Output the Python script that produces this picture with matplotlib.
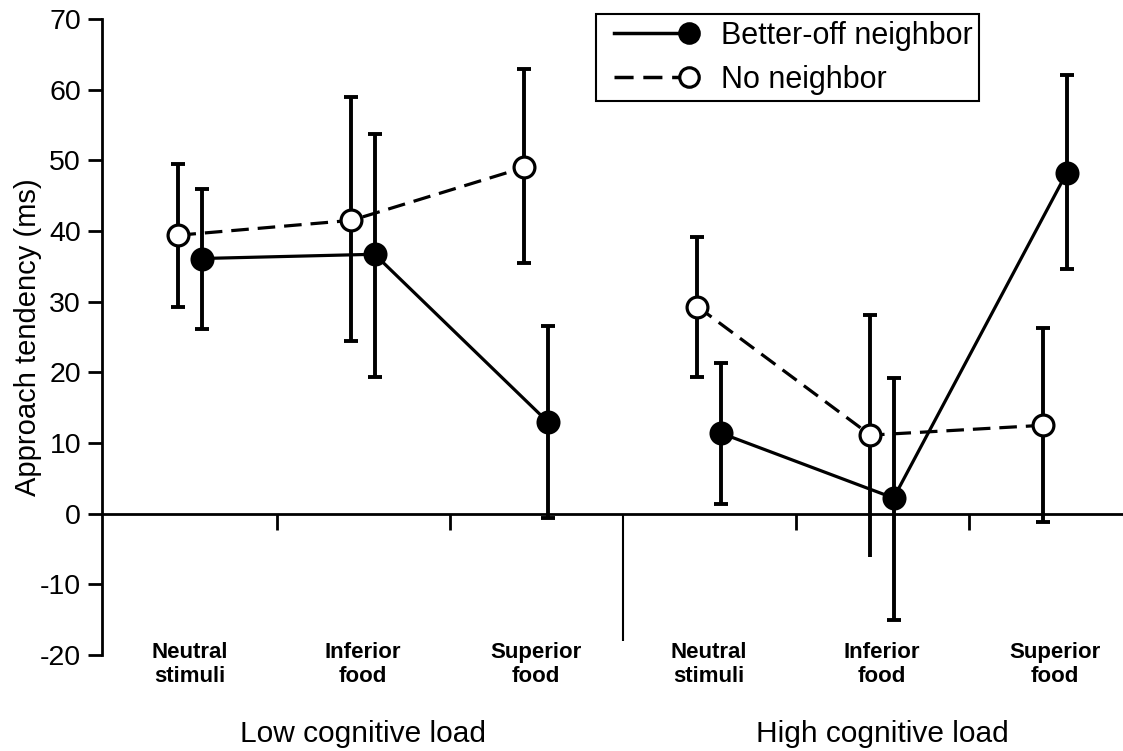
import numpy as np
import matplotlib
matplotlib.use("Agg")
import matplotlib.pyplot as plt
from matplotlib.lines import Line2D
from matplotlib.legend_handler import HandlerLine2D
from matplotlib import transforms

plt.rcParams['font.family'] = ['Liberation Sans', 'DejaVu Sans']
plt.rcParams['axes.unicode_minus'] = False

categories = ["Neutral\nstimuli", "Inferior\nfood", "Superior\nfood",
              "Neutral\nstimuli", "Inferior\nfood", "Superior\nfood"]
groups = ["Low cognitive load", "High cognitive load"]

# Better-off neighbor (filled)
better_mean = [36.1, 36.7, 13.0, 11.4, 2.2, 48.2]
better_hi = [46.0, 53.7, 26.5, 21.3, 19.2, 62.1]
better_lo = [26.1, 19.4, -0.6, 1.4, -15.1, 34.6]

# No neighbor (open)
none_mean = [39.4, 41.5, 49.0, 29.3, 11.1, 12.5]
none_hi = [49.5, 58.9, 62.9, 39.2, 28.1, 26.2]
none_lo = [29.3, 24.4, 35.5, 19.4, -6.1, -1.2]


class EndMarker(HandlerLine2D):
    # marker at the right end of the legend line, line starts a bit in
    def create_artists(self, legend, orig_handle, xdescent, ydescent,
                       width, height, fontsize, trans):
        arts = super().create_artists(legend, orig_handle, xdescent, ydescent,
                                      width, height, fontsize, trans)
        ln = arts[0]
        xd = np.asarray(ln.get_xdata(), dtype=float)
        ln.set_xdata(np.linspace(xd[0] + 8, xd[-1], len(xd)))
        ln.set_markevery([len(xd) - 1])
        return arts


fig = plt.figure(figsize=(11.23, 7.51), dpi=100)
ax = fig.add_axes([0.0908, 0.128, 0.9092, 0.8467])

x = np.arange(len(categories))
off = 0.067

def draw(xs, mean, lo, hi, filled, ls, skip_low_cap=None):
    mean = np.array(mean)
    yerr = [mean - np.array(lo), np.array(hi) - mean]
    for seg in (slice(0, 3), slice(3, 6)):
        ax.plot(xs[seg], mean[seg], color='black', lw=2.3, ls=ls, zorder=2)
    _, caps, _ = ax.errorbar(xs, mean, yerr=yerr, fmt='none', ecolor='black',
                             elinewidth=2.8, capsize=5, capthick=2.8, zorder=3)
    if skip_low_cap is not None:
        caps[0].set_markevery([i for i in range(len(xs)) if i != skip_low_cap])
    ax.plot(xs, mean, 'o', ms=15, mfc='black' if filled else 'white',
            mec='black', mew=2.3, ls='none', zorder=4)

dash = (0, (5.5, 2.8))
draw(x - off, none_mean, none_lo, none_hi, False, dash, skip_low_cap=4)
draw(x + off, better_mean, better_lo, better_hi, True, '-')

ax.set_xlim(-0.509, 5.393)
ax.set_ylim(-20, 70)
ax.set_yticks(np.arange(-20, 71, 10))
ax.tick_params(axis='y', labelsize=20.5, length=10, width=2, direction='out', pad=5)
ax.set_xticks([])
for s in ['top', 'right', 'bottom']:
    ax.spines[s].set_visible(False)
ax.spines['left'].set_linewidth(2)
ax.spines['left'].set_bounds(-20, 70)

# zero line, separators and group divider
ax.axhline(0, color='black', lw=2, zorder=1)
mids = [(x[i] + x[i + 1]) / 2 for i in (0, 1, 3, 4)]
ax.vlines(mids, -2.3, 0, color='black', lw=2)
ax.vlines((x[2] + x[3]) / 2, -18.1, 0, color='black', lw=1.5)

ax.set_ylabel("Approach tendency (ms)", fontsize=21)
ax.yaxis.set_label_coords(-0.0588, 0.5)

trans = transforms.blended_transform_factory(ax.transData, ax.transAxes)
for xi, lab in zip(x, categories):
    ax.text(xi, -0.015, lab, transform=trans, ha='center', va='center',
            fontsize=16, fontweight='bold', linespacing=1.22)
for gx, g in zip([x[1], x[4]], groups):
    ax.text(gx, -0.125, g, transform=trans, ha='center', va='center', fontsize=21.5)

h1 = Line2D([], [], color='black', lw=2.5, marker='o', ms=14, mfc='black',
            mec='black', mew=2.3)
h2 = Line2D([], [], color='black', lw=2.5, ls=dash, marker='o', ms=14,
            mfc='white', mec='black', mew=2.3)
leg = fig.legend([h1, h2], ["Better-off neighbor", "No neighbor"], loc='upper left',
                 bbox_to_anchor=(0.531, 0.981), borderaxespad=0, numpoints=1,
                 fontsize=22, handlelength=2.8, handletextpad=1.05, labelspacing=0.45,
                 borderpad=0.22, fancybox=False, framealpha=1,
                 handler_map={Line2D: EndMarker()})
leg.get_frame().set_edgecolor('black')
leg.get_frame().set_linewidth(1.5)

fig.savefig("out.png", dpi=100)
